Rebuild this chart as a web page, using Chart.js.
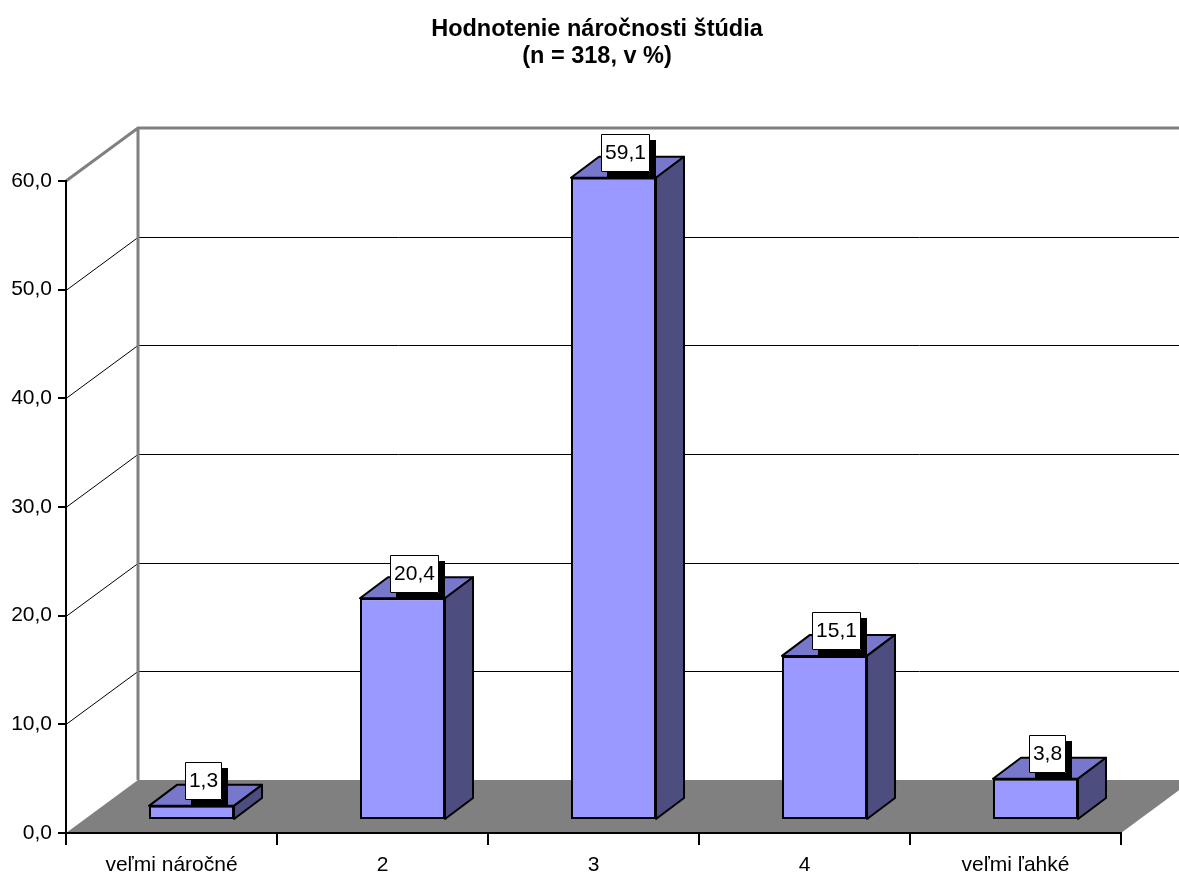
<!DOCTYPE html>
<html>
<head>
<meta charset="utf-8">
<script src="https://cdn.jsdelivr.net/npm/chart.js@4/dist/chart.umd.min.js"></script>
<style>
    body { margin: 0; background: #fff; }
</style>
</head>
<body>
<canvas id="chart" width="1179" height="872"></canvas>
<script>
// data
const categories = ['veľmi náročné', '2', '3', '4', 'veľmi ľahké'];
const values = [1.3, 20.4, 59.1, 15.1, 3.8];
const yTicks = [0, 10, 20, 30, 40, 50, 60];
const titleLines = ['Hodnotenie náročnosti štúdia', '(n = 318, v %)'];

// 3d look
const WALL = { dx: 72, dy: 53 };   // depth of the back wall
const FRONT = { dx: 20, dy: 13 };  // bar front plane offset
const BAR = { dx: 28, dy: 21 };    // bar depth
const FONT = '"Liberation Sans", Arial, sans-serif';

const fmt = v => v.toFixed(1).replace('.', ',');

const scene = {
    id: 'scene',
    beforeDraw(chart) {
        const { ctx, chartArea: a, scales: { y } } = chart;
        ctx.save();

        // title
        ctx.fillStyle = '#000';
        ctx.font = 'bold 23.5px ' + FONT;
        ctx.textAlign = 'center';
        ctx.textBaseline = 'middle';
        ctx.fillText(titleLines[0], 597, 30);
        ctx.fillText(titleLines[1], 597, 57);

        // floor
        ctx.fillStyle = '#808080';
        ctx.beginPath();
        ctx.moveTo(a.left, a.bottom);
        ctx.lineTo(a.right, a.bottom);
        ctx.lineTo(a.right + WALL.dx, a.bottom - WALL.dy);
        ctx.lineTo(a.left + WALL.dx, a.bottom - WALL.dy);
        ctx.closePath();
        ctx.fill();

        // grid lines on side + back wall
        ctx.strokeStyle = '#000';
        ctx.lineWidth = 1;
        yTicks.slice(1, -1).forEach(v => {
            const py = Math.round(y.getPixelForValue(v)) + 0.5;
            ctx.beginPath();
            ctx.moveTo(a.left, py);
            ctx.lineTo(a.left + WALL.dx, py - WALL.dy);
            ctx.lineTo(a.right + WALL.dx, py - WALL.dy);
            ctx.stroke();
        });

        // wall edges
        const top = y.getPixelForValue(yTicks[yTicks.length - 1]);
        ctx.strokeStyle = '#808080';
        ctx.lineWidth = 3;
        ctx.beginPath();
        ctx.moveTo(a.left, top);
        ctx.lineTo(a.left + WALL.dx, top - WALL.dy);
        ctx.lineTo(a.right + WALL.dx, top - WALL.dy);
        ctx.moveTo(a.left + WALL.dx, top - WALL.dy);
        ctx.lineTo(a.left + WALL.dx, a.bottom - WALL.dy);
        ctx.stroke();
        ctx.restore();
    },
    beforeDatasetsDraw(chart) {
        chart.ctx.save();
        chart.ctx.translate(FRONT.dx, -FRONT.dy);
    },
    afterDatasetsDraw(chart) {
        const ctx = chart.ctx;
        ctx.restore();
        const meta = chart.getDatasetMeta(0);
        ctx.save();
        ctx.lineJoin = 'round';
        ctx.lineWidth = 2;
        ctx.strokeStyle = '#000';
        meta.data.forEach((bar, i) => {
            const l = bar.x - bar.width / 2 + FRONT.dx;
            const r = bar.x + bar.width / 2 + FRONT.dx;
            const t = bar.y - FRONT.dy;
            const b = bar.base - FRONT.dy;

            // top face
            ctx.fillStyle = '#7777CC';
            ctx.beginPath();
            ctx.moveTo(l, t);
            ctx.lineTo(l + BAR.dx, t - BAR.dy);
            ctx.lineTo(r + BAR.dx, t - BAR.dy);
            ctx.lineTo(r, t);
            ctx.closePath();
            ctx.fill();
            ctx.stroke();

            // side face
            ctx.fillStyle = '#4D4D80';
            ctx.beginPath();
            ctx.moveTo(r, t);
            ctx.lineTo(r + BAR.dx, t - BAR.dy);
            ctx.lineTo(r + BAR.dx, b - BAR.dy);
            ctx.lineTo(r, b);
            ctx.closePath();
            ctx.fill();
            ctx.stroke();

            // value label box
            const text = fmt(values[i]);
            ctx.font = '21px ' + FONT;
            const w = Math.round(ctx.measureText(text).width) + 8;
            const h = 38;
            const cx = (l + r) / 2 + BAR.dx / 2 - 2;
            const cy = t - BAR.dy / 2 - 14;
            const bx = Math.round(cx - w / 2), by = Math.round(cy - h / 2);
            ctx.fillStyle = '#000';
            ctx.fillRect(bx + 6, by + 6, w, h);
            ctx.fillStyle = '#fff';
            ctx.fillRect(bx, by, w, h);
            ctx.lineWidth = 1;
            ctx.strokeRect(bx + 0.5, by + 0.5, w - 1, h - 1);
            ctx.lineWidth = 2;
            ctx.fillStyle = '#000';
            ctx.textAlign = 'center';
            ctx.textBaseline = 'middle';
            ctx.fillText(text, bx + w / 2, by + h / 2);
        });
        ctx.restore();
    }
};

new Chart(document.getElementById('chart'), {
    type: 'bar',
    data: {
        labels: categories,
        datasets: [{
            data: values,
            backgroundColor: '#9999FF',
            borderColor: '#000',
            borderWidth: 2,
            borderSkipped: false,
            categoryPercentage: 1,
            barPercentage: 0.403,
            clip: false
        }]
    },
    options: {
        responsive: false,
        devicePixelRatio: 1,
        animation: false,
        layout: { padding: { top: 181, left: 0, right: 58, bottom: 0 } },
        plugins: {
            legend: { display: false },
            title: { display: false },
            tooltip: { enabled: false }
        },
        scales: {
            x: {
                afterFit: s => { s.height = 39; },
                grid: { drawOnChartArea: false, color: '#000', lineWidth: 2, tickLength: 12, offset: true },
                border: { color: '#000', width: 2 },
                ticks: { color: '#000', font: { family: FONT, size: 21 }, padding: 8, maxRotation: 0 }
            },
            y: {
                min: yTicks[0],
                max: yTicks[yTicks.length - 1],
                afterFit: s => { s.width = 66; },
                afterBuildTicks: s => { s.ticks = yTicks.map(v => ({ value: v })); },
                grid: { drawOnChartArea: false, color: '#000', lineWidth: 2, tickLength: 8 },
                border: { color: '#000', width: 2 },
                ticks: { color: '#000', font: { family: FONT, size: 21 }, padding: 6, callback: v => fmt(v) }
            }
        }
    },
    plugins: [scene]
});
</script>
</body>
</html>
